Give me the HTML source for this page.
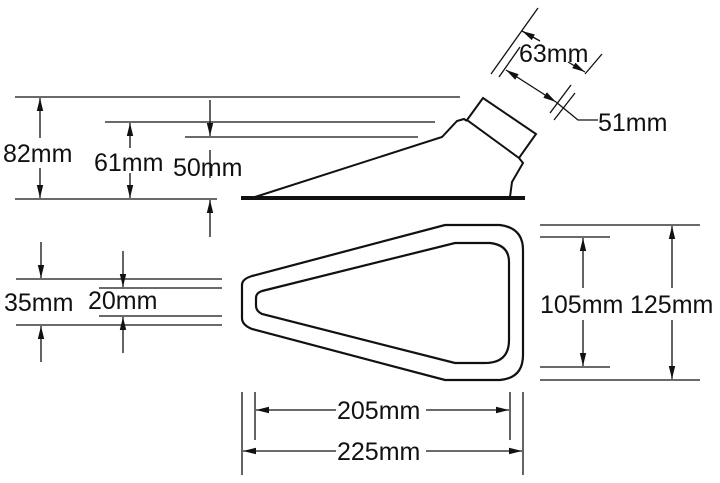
<!DOCTYPE html>
<html><head><style>html,body{margin:0;padding:0;background:#fff}svg{display:block}text{font-family:"Liberation Sans",sans-serif;font-size:25px;fill:#111}</style></head>
<body>
<svg width="720" height="483" viewBox="0 0 720 483" xmlns="http://www.w3.org/2000/svg">
<defs><marker id="a" viewBox="0 0 10 10" refX="10" refY="5" markerWidth="13" markerHeight="8" orient="auto-start-reverse" markerUnits="userSpaceOnUse" preserveAspectRatio="none"><path d="M0,1L10,5L0,9z" fill="#111"/></marker></defs>
<g stroke="#111" stroke-width="1.3" fill="none">
<line x1="15" y1="97" x2="460" y2="97"/>
<line x1="105" y1="122" x2="435" y2="122"/>
<line x1="185" y1="137" x2="418" y2="137"/>
<line x1="15" y1="199" x2="217" y2="199"/>
<line x1="40" y1="138" x2="40" y2="98" marker-end="url(#a)"/>
<line x1="40" y1="168" x2="40" y2="198" marker-end="url(#a)"/>
<line x1="130" y1="148" x2="130" y2="123" marker-end="url(#a)"/>
<line x1="130" y1="173" x2="130" y2="198" marker-end="url(#a)"/>
<line x1="210" y1="100" x2="210" y2="136" marker-end="url(#a)"/>
<line x1="210" y1="150" x2="210" y2="178"/>
<line x1="210" y1="237" x2="210" y2="200" marker-end="url(#a)"/>
<path d="M255,197 L442,137 L457,121 L464,119 L467,121 M467,120 L483,98 L536,134 L519,158 Z M519,158 L523,163 L512,182 L510,197" stroke-width="2"/>
<line x1="241" y1="198" x2="525" y2="198" stroke-width="4"/>
<line x1="491" y1="74" x2="538" y2="8"/>
<line x1="585" y1="74" x2="602" y2="54"/>
<line x1="540" y1="41" x2="522" y2="31" marker-end="url(#a)"/>
<line x1="568" y1="62" x2="585" y2="72" marker-end="url(#a)"/>
<line x1="499" y1="77" x2="520" y2="47"/>
<line x1="550" y1="113" x2="571" y2="85"/>
<line x1="554" y1="120" x2="575" y2="93"/>
<line x1="506" y1="70" x2="556" y2="102" marker-start="url(#a)" marker-end="url(#a)"/>
<polyline points="556,102 578,120 598,120"/>
<line x1="16" y1="279" x2="222" y2="279"/>
<line x1="99" y1="288" x2="222" y2="288"/>
<line x1="99" y1="316" x2="222" y2="316"/>
<line x1="16" y1="325" x2="222" y2="325"/>
<line x1="41" y1="242" x2="41" y2="278" marker-end="url(#a)"/>
<line x1="41" y1="362" x2="41" y2="326" marker-end="url(#a)"/>
<line x1="123" y1="251" x2="123" y2="287" marker-end="url(#a)"/>
<line x1="123" y1="353" x2="123" y2="317" marker-end="url(#a)"/>
<path d="M252,276 L445,225 L500,225 Q523,228 523,250 L523,355 Q523,378 500,380 L445,380 L252,329 Q242,325 242,318 L242,285 Q242,279 252,276 Z" stroke-width="2.2"/>
<path d="M262,291 L455,243 L490,243 Q509,245 509,262 L509,340 Q509,363 485,363 L455,363 L262,314 Q256,311 256,306 L256,298 Q256,293 262,291 Z" stroke-width="2.2"/>
<line x1="540" y1="225" x2="700" y2="225"/>
<line x1="540" y1="380" x2="700" y2="380"/>
<line x1="540" y1="237" x2="610" y2="237"/>
<line x1="540" y1="367" x2="610" y2="367"/>
<line x1="583" y1="288" x2="583" y2="238" marker-end="url(#a)"/>
<line x1="583" y1="320" x2="583" y2="366" marker-end="url(#a)"/>
<line x1="672" y1="288" x2="672" y2="226" marker-end="url(#a)"/>
<line x1="672" y1="320" x2="672" y2="379" marker-end="url(#a)"/>
<line x1="242" y1="392" x2="242" y2="475"/>
<line x1="523" y1="392" x2="523" y2="475"/>
<line x1="255" y1="392" x2="255" y2="440"/>
<line x1="510" y1="392" x2="510" y2="440"/>
<line x1="336" y1="410" x2="256" y2="410" marker-end="url(#a)"/>
<line x1="426" y1="410" x2="509" y2="410" marker-end="url(#a)"/>
<line x1="336" y1="451" x2="243" y2="451" marker-end="url(#a)"/>
<line x1="426" y1="451" x2="522" y2="451" marker-end="url(#a)"/>
</g>
<text x="3" y="162">82mm</text>
<text x="94" y="171">61mm</text>
<text x="173" y="176">50mm</text>
<text x="519" y="62">63mm</text>
<text x="598" y="131">51mm</text>
<text x="4" y="311">35mm</text>
<text x="88" y="309">20mm</text>
<text x="540" y="313">105mm</text>
<text x="630" y="313">125mm</text>
<text x="337" y="419">205mm</text>
<text x="337" y="460">225mm</text>
</svg>
</body></html>
